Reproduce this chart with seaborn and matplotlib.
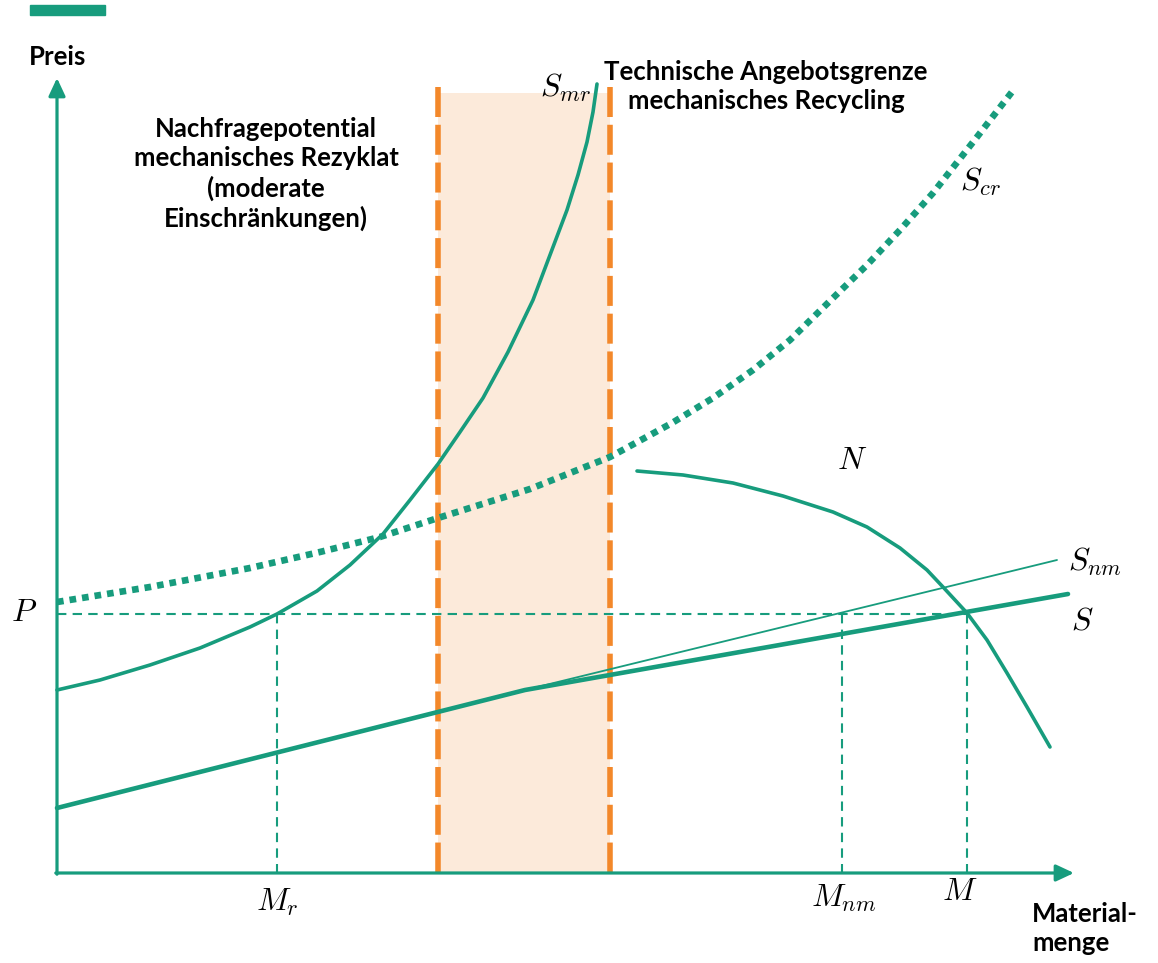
import numpy as np
import pandas as pd
import matplotlib
matplotlib.use("Agg")
import matplotlib.pyplot as plt
import seaborn as sns
from matplotlib.patches import Rectangle

# ---------------- data (quantity, price) ----------------
s_mr_x = [0.00, 0.43, 0.93, 1.43, 1.93, 2.20, 2.60, 2.93, 3.26, 3.53, 3.81, 4.03, 4.26, 4.51, 4.76, 4.93, 5.10, 5.21, 5.30, 5.36, 5.40]
s_mr_y = [1.83, 1.93, 2.08, 2.25, 2.46, 2.59, 2.82, 3.08, 3.39, 3.73, 4.09, 4.41, 4.75, 5.21, 5.73, 6.18, 6.63, 6.98, 7.31, 7.61, 7.89]

s_cr_x = [0.00, 0.93, 1.93, 2.63, 3.23, 3.81, 4.73, 5.53, 6.15, 6.56, 6.96, 7.33, 7.76, 8.10, 8.43, 8.76, 9.20, 9.58]
s_cr_y = [2.71, 2.86, 3.05, 3.21, 3.36, 3.55, 3.84, 4.16, 4.50, 4.75, 5.03, 5.33, 5.75, 6.08, 6.43, 6.80, 7.36, 7.85]

n_x = [5.80, 6.26, 6.76, 7.26, 7.76, 8.10, 8.43, 8.70, 8.86, 9.10, 9.30, 9.50, 9.70, 9.93]
n_y = [4.02, 3.98, 3.90, 3.77, 3.61, 3.46, 3.25, 3.03, 2.86, 2.60, 2.33, 2.00, 1.66, 1.26]

s_x = [0.00, 4.68, 10.11]
s_y = [0.65, 1.83, 2.79]

s_nm_x = [4.68, 10.00]
s_nm_y = [1.83, 3.13]

price_p = 2.59
qty_labels = ["$M_r$", "$M_{nm}$", "$M$"]
qty_values = [2.20, 7.85, 9.10]

band_left, band_right, band_top = 3.81, 5.53, 7.80

GREEN = "#179C7D"
ORANGE = "#F3882A"
BAND = "#FCEADA"

sns.set_theme(style="white")
plt.rcParams["mathtext.fontset"] = "cm"
plt.rcParams["font.family"] = ["Lato", "DejaVu Sans"]

fig = plt.figure(figsize=(11.58, 9.63), dpi=100)
ax = fig.add_axes([0, 0, 1, 1])
ax.set_xlim(-0.57, 11.01)
ax.set_ylim(-0.90, 8.73)
ax.axis("off")

# decorative bar top-left
fig.patches.append(Rectangle((30 / 1158, 1 - 15 / 963), 75 / 1158, 10 / 963,
                             transform=fig.transFigure, color=GREEN, zorder=1))

# shaded band
ax.fill_between([band_left, band_right], 0, band_top, color=BAND, lw=0, zorder=0)

def line(x, y, **kw):
    df = pd.DataFrame({"x": x, "y": y})
    sns.lineplot(data=df, x="x", y="y", sort=False, estimator=None, ax=ax, legend=False, **kw)

# helper dashed lines
line([0, qty_values[2]], [price_p, price_p], color=GREEN, lw=1.5, dashes=(4.5, 3), zorder=2)
for q in qty_values:
    line([q, q], [price_p, 0], color=GREEN, lw=1.5, dashes=(4.5, 3), zorder=2)

# orange dashed boundaries
for bx in [band_left, band_right]:
    line([bx, bx], [band_top + 0.06, 0], color=ORANGE, lw=4.0, dashes=(5.4, 1.4), zorder=3)

# curves
line(s_mr_x, s_mr_y, color=GREEN, lw=2.6, zorder=5)
line(s_cr_x, s_cr_y, color=GREEN, lw=4.8, dashes=(1, 0.9), zorder=5)
line(n_x, n_y, color=GREEN, lw=2.6, zorder=5)
line(s_x, s_y, color=GREEN, lw=3.3, zorder=5)
line(s_nm_x, s_nm_y, color=GREEN, lw=1.3, zorder=5)

# axes arrows
arrow = dict(arrowstyle="-|>,head_length=0.9,head_width=0.42", lw=2.3, color=GREEN,
             shrinkA=0, shrinkB=0, mutation_scale=12)
ax.annotate("", xy=(0, 7.95), xytext=(0, -0.012), arrowprops=arrow, zorder=6)
ax.annotate("", xy=(10.17, 0), xytext=(-0.012, 0), arrowprops=arrow, zorder=6)

# texts
bold = dict(fontweight="bold", fontsize=18.5, color="black", linespacing=1.25)
ax.text(0.01, 8.16, "Preis", ha="center", va="center", **bold)
ax.text(2.09, 6.99, "Nachfragepotential\nmechanisches Rezyklat\n(moderate\nEinschränkungen)",
        ha="center", va="center", multialignment="center", **bold)
ax.text(7.09, 7.87, "Technische Angebotsgrenze\nmechanisches Recycling",
        ha="center", va="center", multialignment="center", **bold)
ax.text(9.75, -0.55, "Material-\nmenge", ha="left", va="center", **bold)

m = dict(fontsize=23, color="black")
ax.text(5.08, 7.85, "$S_{mr}$", ha="center", va="center", **m)
ax.text(9.23, 6.91, "$S_{cr}$", ha="center", va="center", **m)
ax.text(7.95, 4.13, "$N$", ha="center", va="center", **m)
ax.text(10.38, 3.11, "$S_{nm}$", ha="center", va="center", **m)
ax.text(10.25, 2.53, "$S$", ha="center", va="center", **m)
ax.text(-0.33, 2.61, "$P$", ha="center", va="center", **m)
qty_label_pos = [(2.20, -0.29), (7.87, -0.25), (9.03, -0.18)]
for lab, (lx, ly) in zip(qty_labels, qty_label_pos):
    ax.text(lx, ly, lab, ha="center", va="center", **m)

fig.savefig("out.png", dpi=100)
